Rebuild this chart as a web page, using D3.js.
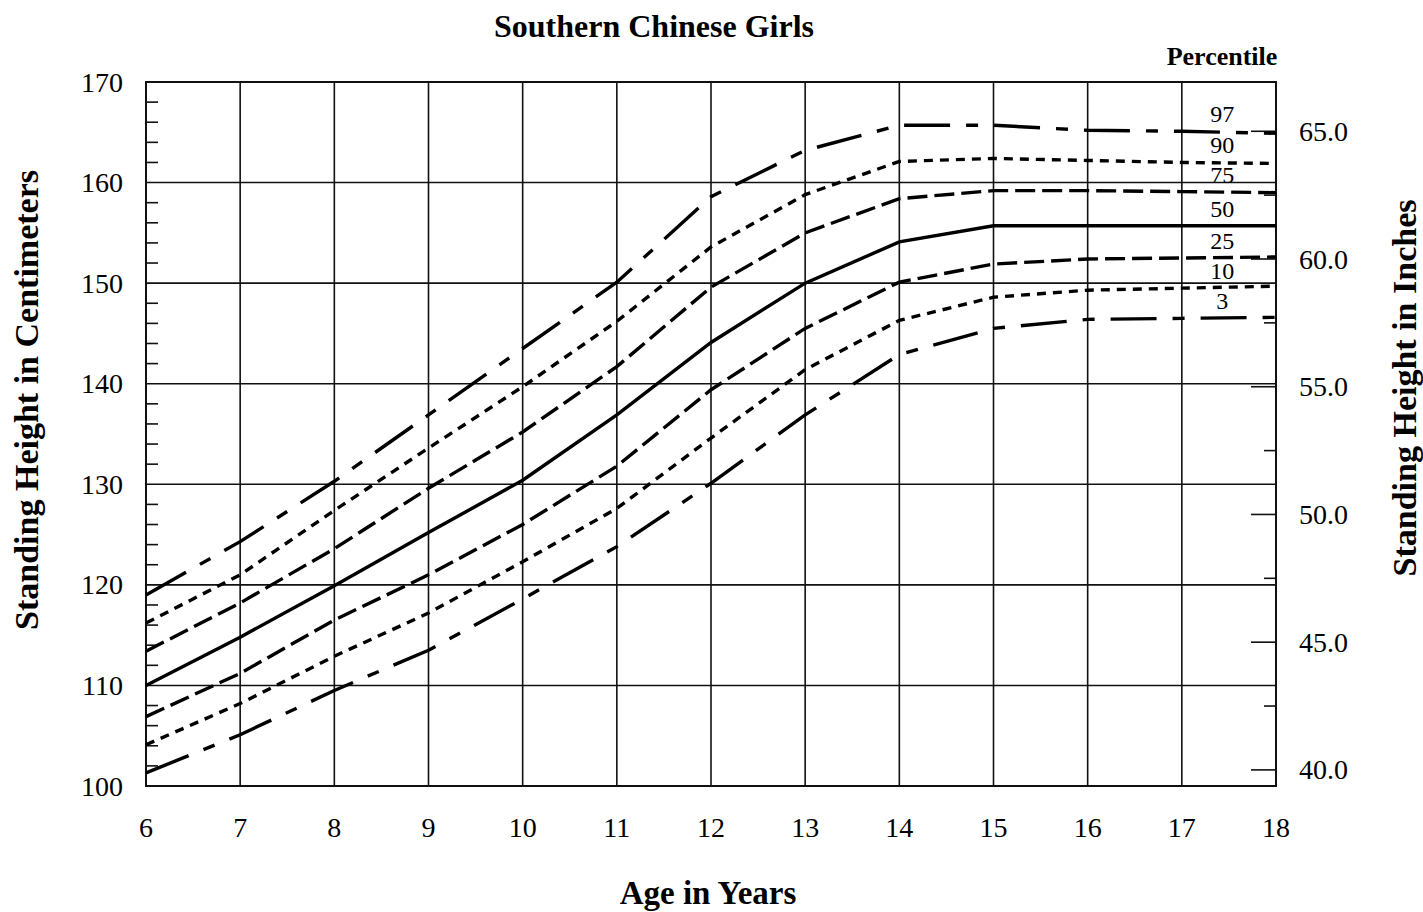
<!DOCTYPE html>
<html>
<head>
<meta charset="utf-8">
<script src="https://cdn.jsdelivr.net/npm/d3@7"></script>
<style>
  html, body { margin: 0; padding: 0; background: #fff; }
  svg { display: block; }
  text { font-family: "Liberation Serif", "Times New Roman", serif; fill: #000; }
</style>
</head>
<body>
<svg id="chart" width="1423" height="912"></svg>
<script>
// ---- data ----
const ages = [6, 7, 8, 9, 10, 11, 12, 13, 14, 15, 16, 17, 18];
const p97 = [119.0, 124.3, 130.3, 136.9, 143.5, 150.1, 158.6, 163.2, 165.7, 165.7, 165.2, 165.1, 164.9];
const p90 = [116.2, 121.0, 127.4, 133.6, 139.7, 146.2, 153.6, 158.8, 162.1, 162.4, 162.2, 162.0, 161.9];
const p75 = [113.4, 118.2, 123.6, 129.6, 135.2, 141.7, 149.6, 155.0, 158.4, 159.2, 159.2, 159.1, 159.0];
const p50 = [110.0, 114.8, 119.9, 125.2, 130.4, 136.9, 144.1, 150.0, 154.1, 155.7, 155.7, 155.7, 155.7];
const p25 = [106.9, 111.2, 116.5, 121.0, 126.0, 131.8, 139.4, 145.5, 150.1, 151.9, 152.4, 152.5, 152.6];
const p10 = [104.1, 108.2, 112.9, 117.2, 122.3, 127.6, 134.6, 141.4, 146.3, 148.6, 149.3, 149.5, 149.7];
const p3  = [101.3, 105.1, 109.5, 113.5, 118.6, 123.8, 130.1, 136.9, 142.9, 145.5, 146.4, 146.5, 146.6];
const percentileNames = ["97", "90", "75", "50", "25", "10", "3"];
const xTicks = ages;
const cmTicks = [100, 110, 120, 130, 140, 150, 160, 170];
const inchTicks = [40.0, 45.0, 50.0, 55.0, 60.0, 65.0];
const inchMinorTicks = [42.5, 47.5, 52.5, 57.5, 62.5];
const title = "Southern Chinese Girls";

// ---- layout ----
const svg = d3.select("#chart");
const L = 146, T = 82, R = 1276, B = 786;
const x = d3.scaleLinear().domain([6, 18]).range([L, R]);
const y = d3.scaleLinear().domain([100, 170]).range([B, T]);
const yIn = d3.scaleLinear().domain([100 / 2.54, 170 / 2.54]).range([B, T]);

const series = [p97, p90, p75, p50, p25, p10, p3];
const dashes = ["46,16,12,16", "9,7", "20,7", "", "20,7", "9,7", "46,16,12,16"];

// grid
const g = svg.append("g");
g.selectAll("line.vg").data(xTicks.slice(1, -1)).join("line")
  .attr("x1", d => x(d)).attr("x2", d => x(d)).attr("y1", T).attr("y2", B)
  .attr("stroke", "#111").attr("stroke-width", 1.6);
g.selectAll("line.hg").data(cmTicks.slice(1, -1)).join("line")
  .attr("x1", L).attr("x2", R).attr("y1", d => y(d)).attr("y2", d => y(d))
  .attr("stroke", "#111").attr("stroke-width", 1.6);

// minor cm ticks (every 2 cm) on left
const cmMinor = d3.range(102, 170, 2).filter(v => v % 10 !== 0);
g.selectAll("line.cmm").data(cmMinor).join("line")
  .attr("x1", L).attr("x2", L + 12).attr("y1", d => y(d)).attr("y2", d => y(d))
  .attr("stroke", "#111").attr("stroke-width", 1.6);

// inch ticks on right
g.selectAll("line.inM").data(inchTicks).join("line")
  .attr("x1", R - 25).attr("x2", R).attr("y1", d => yIn(d)).attr("y2", d => yIn(d))
  .attr("stroke", "#111").attr("stroke-width", 1.6);
g.selectAll("line.inm").data(inchMinorTicks).join("line")
  .attr("x1", R - 12).attr("x2", R).attr("y1", d => yIn(d)).attr("y2", d => yIn(d))
  .attr("stroke", "#111").attr("stroke-width", 1.6);

// frame
g.append("rect").attr("x", L).attr("y", T).attr("width", R - L).attr("height", B - T)
  .attr("fill", "none").attr("stroke", "#111").attr("stroke-width", 2);

// curves
const line = d3.line().x((d, i) => x(ages[i])).y(d => y(d)).curve(d3.curveLinear);
svg.append("g").selectAll("path").data(series).join("path")
  .attr("d", d => line(d))
  .attr("fill", "none").attr("stroke", "#000").attr("stroke-width", 3.4)
  .attr("stroke-dasharray", (d, i) => dashes[i] || null);

// percentile labels
const labX = x(17.43);
svg.append("g").selectAll("text").data(series).join("text")
  .attr("x", labX)
  .attr("y", (d, i) => y(d[d.length - 2]) - 17)
  .attr("text-anchor", "middle").attr("dominant-baseline", "central")
  .attr("font-size", 24)
  .text((d, i) => percentileNames[i]);

svg.append("text").attr("x", 1222).attr("y", 65).attr("text-anchor", "middle")
  .attr("font-size", 26).attr("font-weight", "bold").text("Percentile");

// axis tick labels
svg.append("g").selectAll("text").data(cmTicks).join("text")
  .attr("x", 123).attr("y", d => y(d)).attr("text-anchor", "end")
  .attr("dominant-baseline", "central").attr("font-size", 28)
  .text(d => d);
svg.append("g").selectAll("text").data(xTicks).join("text")
  .attr("x", d => x(d)).attr("y", 837).attr("text-anchor", "middle")
  .attr("font-size", 28).text(d => d);
svg.append("g").selectAll("text").data(inchTicks).join("text")
  .attr("x", 1299).attr("y", d => yIn(d)).attr("text-anchor", "start")
  .attr("dominant-baseline", "central").attr("font-size", 28)
  .text(d => d3.format(".1f")(d));

// titles
svg.append("text").attr("x", 654).attr("y", 37).attr("text-anchor", "middle")
  .attr("font-size", 32).attr("font-weight", "bold").text(title);
svg.append("text").attr("x", 708).attr("y", 904).attr("text-anchor", "middle")
  .attr("font-size", 33).attr("font-weight", "bold").text("Age in Years");
svg.append("text").attr("transform", "translate(38,400) rotate(-90)")
  .attr("text-anchor", "middle").attr("font-size", 34).attr("font-weight", "bold")
  .text("Standing Height in Centimeters");
svg.append("text").attr("transform", "translate(1416,388) rotate(-90)")
  .attr("text-anchor", "middle").attr("font-size", 34).attr("font-weight", "bold")
  .text("Standing Height in Inches");
</script>
</body>
</html>
